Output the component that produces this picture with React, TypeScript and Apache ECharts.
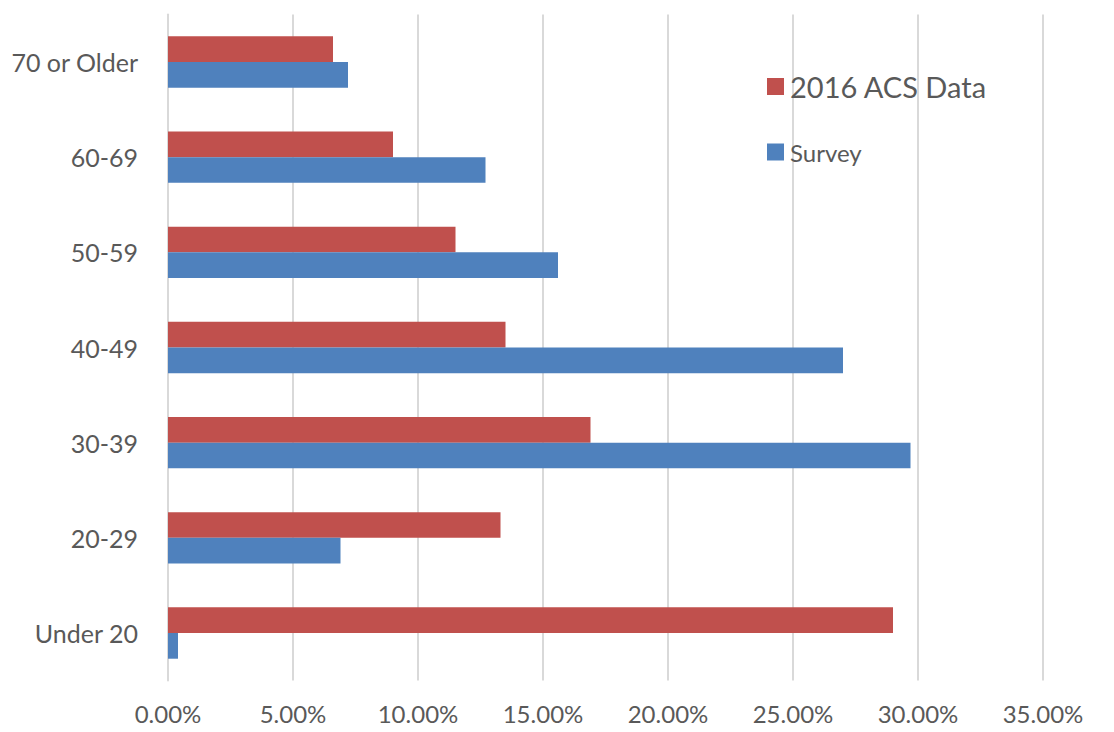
import React, { useEffect, useRef } from "react";
import * as echarts from "echarts";

const categories = ["Under 20", "20-29", "30-39", "40-49", "50-59", "60-69", "70 or Older"];
const acsData = [29.0, 13.3, 16.9, 13.5, 11.5, 9.0, 6.6];
const surveyData = [0.4, 6.9, 29.7, 27.0, 15.6, 12.7, 7.2];
const xTicks = [0, 5, 10, 15, 20, 25, 30, 35];

const FONT = "Lato, 'Open Sans', sans-serif";
const TEXT = "#595959";
const GRID = "#d9d9d9";

export default function App() {
  const ref = useRef<HTMLDivElement>(null);
  useEffect(() => {
    if (!ref.current) return;
    const chart = echarts.init(ref.current, undefined, { renderer: "svg" });
    chart.setOption({
      animation: false,
      textStyle: { fontFamily: FONT },
      grid: { left: 168, right: 71, top: 14.4, bottom: 51.4, containLabel: false },
      legend: [
        {
          data: ["2016 ACS Data"],
          orient: "vertical",
          left: 762,
          top: 67,
          itemWidth: 17,
          itemHeight: 17,
          icon: "rect",
          textStyle: { fontFamily: FONT, fontSize: 29, color: TEXT, padding: [0, 0, 0, 1] },
        },
        {
          data: ["Survey"],
          orient: "vertical",
          left: 762,
          top: 135,
          itemWidth: 17,
          itemHeight: 17,
          icon: "rect",
          textStyle: { fontFamily: FONT, fontSize: 24, color: TEXT, padding: [0, 0, 0, 1] },
        },
      ],
      xAxis: {
        type: "value",
        min: xTicks[0],
        max: xTicks[xTicks.length - 1],
        interval: 5,
        axisLine: { show: false },
        axisTick: { show: false },
        splitLine: { show: true, lineStyle: { color: GRID, width: 2 } },
        axisLabel: {
          color: TEXT,
          fontSize: 24,
          fontFamily: FONT,
          margin: 21,
          formatter: (v: number) => v.toFixed(2) + "%",
        },
      },
      yAxis: {
        type: "category",
        data: categories,
        axisLine: { show: true, lineStyle: { color: GRID, width: 2 } },
        axisTick: { show: false },
        axisLabel: { color: TEXT, fontSize: 25, fontFamily: FONT, margin: 30, padding: [0, 0, 5, 0] },
      },
      series: [
        {
          name: "2016 ACS Data",
          type: "bar",
          data: acsData,
          itemStyle: { color: "#C0504D" },
          barGap: "0%",
          barCategoryGap: "46%",
        },
        {
          name: "Survey",
          type: "bar",
          data: surveyData,
          itemStyle: { color: "#4F81BD" },
          barGap: "0%",
          barCategoryGap: "46%",
        },
      ],
    });
    return () => chart.dispose();
  }, []);
  return <div ref={ref} style={{ width: 1114, height: 732, position: "absolute", left: 0, top: 0 }} />;
}
